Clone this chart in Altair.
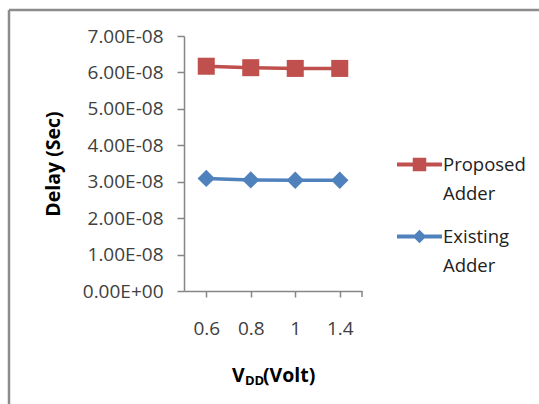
import altair as alt
import pandas as pd

# ---- data ----
vdd = ["0.6", "0.8", "1", "1.4"]
proposed = [6.17e-8, 6.13e-8, 6.11e-8, 6.11e-8]
existing = [3.09e-8, 3.05e-8, 3.04e-8, 3.04e-8]
series_names = ["Proposed Adder", "Existing Adder"]
series_colors = ["#C0504D", "#4F81BD"]
y_ticks = [0, 1e-8, 2e-8, 3e-8, 4e-8, 5e-8, 6e-8, 7e-8]

rows = []
for name, vals in zip(series_names, [proposed, existing]):
    for v, d in zip(vdd, vals):
        rows.append({"vdd": v, "delay": d, "series": name})
df = pd.DataFrame(rows)

FONT = "Open Sans"
W, H = 178, 255
AXIS_GRAY = "#868686"
TICK_FS = 19

x_enc = alt.X(
    "vdd:N", sort=vdd, title=None,
    scale=alt.Scale(type="point", padding=0.5),
    axis=alt.Axis(labelAngle=0, labelFont=FONT, labelFontSize=TICK_FS, labelColor="#404040",
                  domainColor=AXIS_GRAY, domainWidth=1.5, tickColor=AXIS_GRAY, tickWidth=1.5,
                  tickSize=6, labelPadding=22, grid=False),
)
y_enc = alt.Y(
    "delay:Q", title="Delay (Sec)",
    scale=alt.Scale(domain=[0, 7e-8], nice=False, zero=True),
    axis=alt.Axis(values=y_ticks, grid=False,
                  labelExpr="datum.value == 0 ? '0.00E+00' : format(datum.value * 1e8, '.2f') + 'E-08'",
                  labelFont=FONT, labelFontSize=TICK_FS, labelColor="#404040",
                  domainColor=AXIS_GRAY, domainWidth=1.5, tickColor=AXIS_GRAY, tickWidth=1.5,
                  tickSize=7, labelPadding=14,
                  titleFont=FONT, titleFontSize=19.5, titleFontWeight="bold", titleColor="#000000",
                  titleAngle=270, titleX=-131, titleY=H / 2, titleAlign="center",
                  titleBaseline="middle"),
)

# data-driven domain (sorted) for the mark colours, explicit domain for the legend colours
mark_color_scale = alt.Scale(range=series_colors)
legend_color_scale = alt.Scale(domain=series_names, range=series_colors)
base = alt.Chart(df)

lines = base.mark_line(strokeWidth=3.5).encode(
    x=x_enc, y=y_enc,
    stroke=alt.Stroke("series:N", sort=series_names, scale=mark_color_scale, legend=None),
)

sq_path = "M-1,-0.09H1V0.09H-1Z M-0.3,-0.3H0.3V0.3H-0.3Z"
dm_path = "M-1,-0.09H1V0.09H-1Z M0,-0.3L0.3,0L0,0.3L-0.3,0Z"

leg = alt.Legend(title=None, orient="none", legendX=213, legendY=106, padding=0,
                 labelFont=FONT, labelFontSize=18.5, labelColor="#222222",
                 labelExpr="split(datum.label, ' ')", labelOffset=1,
                 symbolSize=2025, symbolStrokeWidth=0, rowPadding=11, labelBaseline="middle")

# this layer supplies the legend (line + marker symbols); its marks sit under the real markers
legend_layer = base.mark_point(filled=True, size=250, opacity=1).encode(
    x=x_enc, y=y_enc,
    color=alt.Color("series:N", scale=legend_color_scale, legend=leg),
    shape=alt.Shape("series:N", scale=alt.Scale(domain=series_names, range=[sq_path, dm_path]), legend=leg),
)

points_prop = base.transform_filter(alt.datum.series == series_names[0]).mark_point(
    filled=True, size=290, opacity=1, shape="square").encode(
    x=x_enc, y=y_enc,
    fill=alt.Fill("series:N", sort=series_names, scale=mark_color_scale, legend=None),
)
points_exist = base.transform_filter(alt.datum.series == series_names[1]).mark_point(
    filled=True, size=300, opacity=1, shape="diamond").encode(
    x=x_enc, y=y_enc,
    fill=alt.Fill("series:N", sort=series_names, scale=mark_color_scale, legend=None),
)

one = pd.DataFrame({"k": [0]})
frame_left = alt.Chart(one).mark_rule(color="#8c8c8c", strokeWidth=2.5).encode(
    x=alt.value(-175), y=alt.value(-26), y2=alt.value(400))
frame_top = alt.Chart(one).mark_rule(color="#8c8c8c", strokeWidth=2.5).encode(
    x=alt.value(-175), x2=alt.value(400), y=alt.value(-26))
end_tick = alt.Chart(one).mark_rule(color=AXIS_GRAY, strokeWidth=1.5).encode(
    x=alt.value(W), y=alt.value(H), y2=alt.value(H + 6))

t_v = alt.Chart(one).mark_text(text="V", font=FONT, fontSize=19.5, fontWeight="bold", align="left",
                               baseline="alphabetic", color="#000000").encode(
    x=alt.value(48), y=alt.value(346))
t_dd = alt.Chart(one).mark_text(text="DD", font=FONT, fontSize=13, fontWeight="bold", align="left",
                                baseline="alphabetic", color="#000000").encode(
    x=alt.value(61), y=alt.value(349))
t_volt = alt.Chart(one).mark_text(text="(Volt)", font=FONT, fontSize=19.5, fontWeight="bold", align="left",
                                  baseline="alphabetic", color="#000000").encode(
    x=alt.value(79), y=alt.value(346))

chart = alt.layer(
    frame_left, frame_top, lines, legend_layer, points_prop, points_exist, end_tick, t_v, t_dd, t_volt
).properties(
    width=W, height=H,
    padding={"left": 184, "top": 36, "right": 177, "bottom": 113},
    autosize=alt.AutoSizeParams(type="none"),
    background="white",
).configure(
    style={"guide-label": {"lineHeight": 29}}
).configure_axis(
    labelFont=FONT, labelFontSize=TICK_FS
).configure_view(stroke=None)

chart.save("out.html", embed_options={"renderer": "svg", "actions": False})
